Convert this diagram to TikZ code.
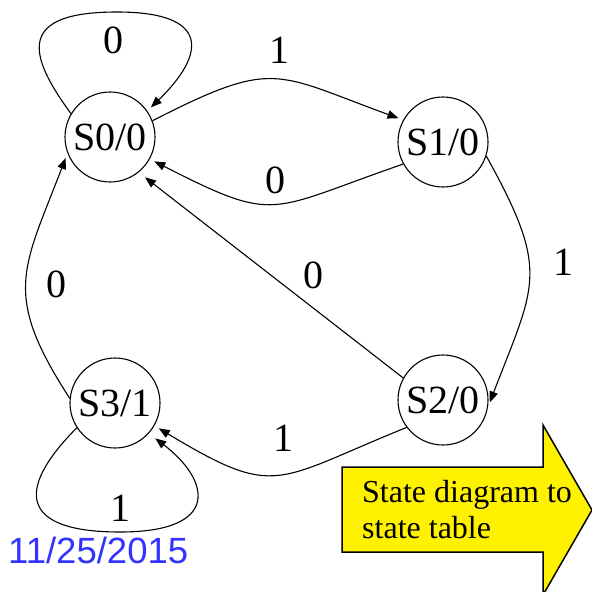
\documentclass[tikz,border=0pt]{standalone}
\usepackage{fontspec}
\setmainfont{Liberation Serif}
\newfontfamily\datefont{Liberation Sans}
\usetikzlibrary{arrows.meta}
\definecolor{dateblue}{RGB}{51,51,255}
\tikzset{
  state/.style={circle, draw, line width=1.1pt, minimum size=90pt, inner sep=0pt, font=\fontsize{40}{48}\selectfont},
  lbl/.style={inner sep=0pt, font=\fontsize{40}{48}\selectfont},
  conn/.style={-{Triangle[length=11pt,width=8.5pt]}, line width=1.1pt, shorten >=5pt},
}
\begin{document}
\begin{tikzpicture}[x=1pt,y=1pt]
\useasboundingbox (0,0) rectangle (592,-592);
% states
\node[state] (S0) at (110,-137) {S0/0};
\node[state] (S1) at (443,-142) {S1/0};
\node[state] (S2) at (443,-400) {S2/0};
\node[state] (S3) at (115,-403) {S3/1};
% transitions
\draw[conn] (S0.149) .. controls (28,-55) and (16,-12) .. (117,-12) .. controls (212,-12) and (205,-55) .. (S0.35);
\draw[conn] (S0.21) to[out=27,in=160,looseness=1.4] (S1.151);
\draw[conn] (S1.209) to[out=199,in=-27,looseness=1.45] (S0.-29);
\draw[conn] (S1.-18) to[out=-61,in=69,looseness=1.35] (S2.-9);
\draw[conn, shorten >=8pt] (S2.151) -- (S0.-51);
\draw[conn] (S2.217) to[out=202,in=-31,looseness=1.45] (S3.-30);
\draw[conn] (S3.174) to[out=123,in=249,looseness=1.3] (S0.201);
\draw[conn, shorten >=8pt] (S3.213) .. controls (15,-490) and (20,-532) .. (120,-532) .. controls (222,-532) and (210,-480) .. (S3.-42);
% labels
\node[lbl] (l00) at (113,-40) {0};
\node[lbl] (l01) at (279,-50) {1};
\node[lbl] (l10) at (275,-180) {0};
\node[lbl] (l12) at (563,-262) {1};
\node[lbl] (l20) at (313,-275) {0};
\node[lbl] (l30) at (56,-284) {0};
\node[lbl] (l23) at (283,-438) {1};
\node[lbl] (l33) at (120,-508) {1};
% yellow arrow
\begin{scope}
\clip (0,0) rectangle (592,-592);
\draw[fill=yellow, line width=1.5pt, line join=miter] (342,-467) -- (543,-467) -- (543,-425) -- (592,-510) -- (543,-595) -- (543,-552) -- (342,-552) -- cycle;
\end{scope}
\node[anchor=north west, inner sep=0pt, align=left, font=\fontsize{32}{36}\selectfont] (note) at (362,-480) {State diagram to\\state table};
% date
\node[anchor=base west, inner sep=0pt, text=dateblue, font=\datefont\fontsize{36.5}{40}\selectfont] (date) at (8,-563) {11/25/2015};
\end{tikzpicture}
\end{document}
